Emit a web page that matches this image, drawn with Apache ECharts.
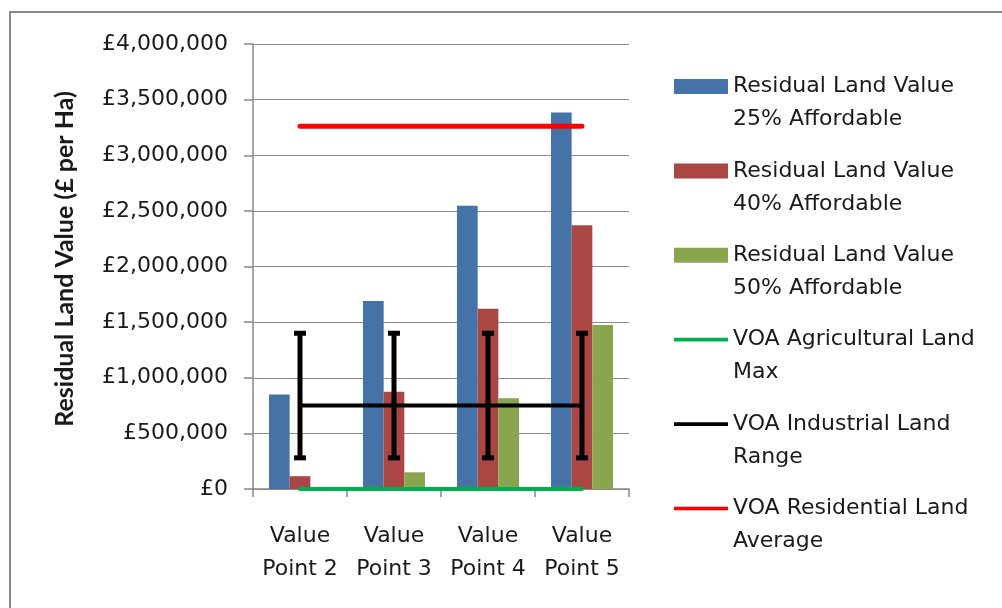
<!DOCTYPE html>
<html>
<head>
<meta charset="utf-8">
<script src="https://cdn.jsdelivr.net/npm/echarts@6/dist/echarts.min.js"></script>
<style>
  html, body { margin: 0; padding: 0; background: #fff; }
  #chart { width: 1002px; height: 608px; }
</style>
</head>
<body>
<div id="chart"></div>
<script>
// Value points along the x axis
const categories = ['Value\nPoint 2', 'Value\nPoint 3', 'Value\nPoint 4', 'Value\nPoint 5'];

// Residual land values (£ per Ha) at each affordable-housing level
const rlv25 = [850000, 1690000, 2545000, 3385000];
const rlv40 = [115000, 875000, 1620000, 2370000];
const rlv50 = [0, 150000, 815000, 1475000];

// VOA benchmarks
const agriculturalMax = [0, 0, 0, 0];
const industrialMid = [750000, 750000, 750000, 750000];
const industrialLow = [280000, 280000, 280000, 280000];
const industrialHigh = [1400000, 1400000, 1400000, 1400000];
const residentialAvg = [3260000, 3260000, 3260000, 3260000];

// Y axis ticks
const yMin = 0, yMax = 4000000, yStep = 500000;

const FONT = 'DejaVu Sans';
const TEXT = '#1a1a1a';
const AXIS = '#888888';

const names = {
  b25: 'Residual Land Value\n25% Affordable',
  b40: 'Residual Land Value\n40% Affordable',
  b50: 'Residual Land Value\n50% Affordable',
  agr: 'VOA Agricultural Land\nMax',
  ind: 'VOA Industrial Land\nRange',
  res: 'VOA Residential Land\nAverage'
};

const lineIcon = 'path://M0,0H58V4H0Z';

function poundFmt(v) {
  return '£' + Math.round(v).toLocaleString('en-GB');
}

const chart = echarts.init(document.getElementById('chart'), null, { renderer: 'canvas' });

chart.setOption({
  animation: false,
  backgroundColor: '#ffffff',
  textStyle: { fontFamily: FONT },
  graphic: [{
    type: 'polyline',
    shape: { points: [[10, 608], [10, 12], [1002, 12]] },
    style: { stroke: '#8a8a8a', lineWidth: 2, fill: null },
    silent: true
  }],
  grid: { left: 253, right: 373, top: 44, bottom: 119, containLabel: false },
  legend: {
    orient: 'vertical',
    left: 674,
    top: 37,
    padding: 0,
    itemWidth: 54,
    itemHeight: 15,
    itemGap: -14.6,
    selectedMode: false,
    // a blank leading line keeps the first text line level with the key
    formatter: function (name) { return '\n' + name; },
    textStyle: { fontFamily: FONT, fontSize: 22, color: TEXT, lineHeight: 33 },
    data: [
      { name: names.b25, icon: 'rect' },
      { name: names.b40, icon: 'rect' },
      { name: names.b50, icon: 'rect' },
      { name: names.agr, icon: lineIcon },
      { name: names.ind, icon: lineIcon },
      { name: names.res, icon: lineIcon }
    ]
  },
  xAxis: {
    type: 'category',
    data: categories,
    boundaryGap: true,
    axisLine: { show: true, lineStyle: { color: AXIS, width: 1.5 } },
    axisTick: { show: true, length: 8, alignWithLabel: false, lineStyle: { color: AXIS, width: 1.5 } },
    axisLabel: {
      fontFamily: FONT, fontSize: 22, color: TEXT, lineHeight: 33,
      margin: 31, interval: 0, align: 'center'
    },
    splitLine: { show: false }
  },
  yAxis: {
    type: 'value',
    min: yMin, max: yMax, interval: yStep,
    name: 'Residual Land Value (£ per Ha)',
    nameLocation: 'middle',
    nameRotate: 90,
    nameGap: 176,
    nameTextStyle: {
      fontFamily: 'Lato', fontWeight: 'bold', fontSize: 25, color: TEXT,
      padding: [0, 0, 0, 15]
    },
    axisLine: { show: true, lineStyle: { color: AXIS, width: 1.5 } },
    axisTick: { show: true, length: 9, lineStyle: { color: AXIS, width: 1.5 } },
    axisLabel: { fontFamily: FONT, fontSize: 22, color: TEXT, margin: 25, formatter: poundFmt },
    splitLine: { show: true, lineStyle: { color: '#8c8c8c', width: 1.2 } }
  },
  series: [
    { name: names.b25, type: 'bar', data: rlv25, barGap: '0%', barCategoryGap: '34%',
      itemStyle: { color: '#4572A7' }, z: 2 },
    { name: names.b40, type: 'bar', data: rlv40, barGap: '0%', barCategoryGap: '34%',
      itemStyle: { color: '#AA4643' }, z: 2 },
    { name: names.b50, type: 'bar', data: rlv50, barGap: '0%', barCategoryGap: '34%',
      itemStyle: { color: '#89A54E' }, z: 2 },
    { name: names.agr, type: 'line', data: agriculturalMax, symbol: 'none',
      itemStyle: { color: '#00B050' }, lineStyle: { color: '#00B050', width: 4, cap: 'round' }, z: 5 },
    { name: names.ind, type: 'line', data: industrialMid, symbol: 'none',
      itemStyle: { color: '#000000' }, lineStyle: { color: '#000000', width: 4 }, z: 5 },
    { name: names.res, type: 'line', data: residentialAvg, symbol: 'none',
      itemStyle: { color: '#FF0000' }, lineStyle: { color: '#FF0000', width: 5, cap: 'round' }, z: 5 },
    {
      name: 'Industrial range',
      type: 'custom',
      z: 6,
      encode: { x: 0, y: [1, 2] },
      data: categories.map((c, i) => [i, industrialLow[i], industrialHigh[i]]),
      renderItem: function (params, api) {
        const lo = api.coord([api.value(0), api.value(1)]);
        const hi = api.coord([api.value(0), api.value(2)]);
        const half = 6;
        const st = { stroke: '#000', lineWidth: 5, fill: null };
        return {
          type: 'group',
          children: [
            { type: 'line', shape: { x1: lo[0], y1: lo[1], x2: hi[0], y2: hi[1] }, style: st },
            { type: 'line', shape: { x1: hi[0] - half, y1: hi[1], x2: hi[0] + half, y2: hi[1] }, style: st },
            { type: 'line', shape: { x1: lo[0] - half, y1: lo[1], x2: lo[0] + half, y2: lo[1] }, style: st }
          ]
        };
      }
    }
  ]
});
</script>
</body>
</html>
